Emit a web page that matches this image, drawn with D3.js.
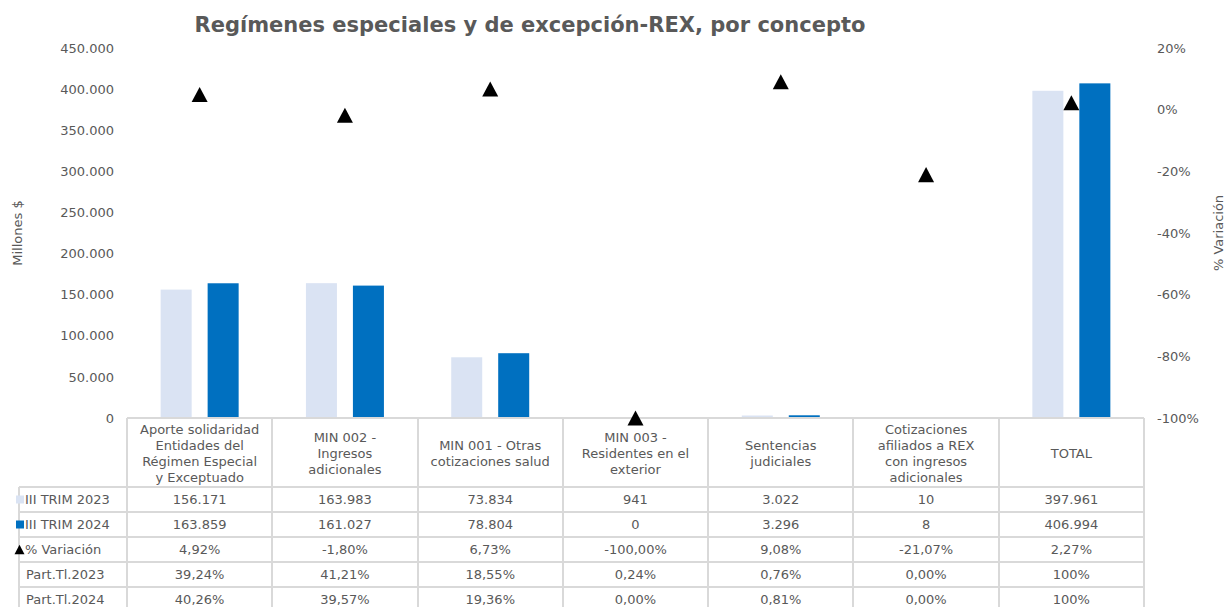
<!DOCTYPE html>
<html>
<head>
<meta charset="utf-8">
<script src="https://cdn.jsdelivr.net/npm/d3@7"></script>
<style>
  html, body { margin: 0; padding: 0; background: #fff; }
  svg { display: block; font-family: "DejaVu Sans", Verdana, sans-serif; }
</style>
</head>
<body>
<svg id="chart" width="1225" height="607"></svg>
<script>
// Concepts (column order) and their header lines in the data table
const categories = [
  "Aporte solidaridad Entidades del Régimen Especial y Exceptuado",
  "MIN 002 - Ingresos adicionales",
  "MIN 001 - Otras cotizaciones salud",
  "MIN 003 - Residentes en el exterior",
  "Sentencias judiciales",
  "Cotizaciones afiliados a REX con ingresos adicionales",
  "TOTAL"
];
const headerLines = [
  ["Aporte solidaridad", "Entidades del", "Régimen Especial", "y Exceptuado"],
  ["MIN 002 -", "Ingresos", "adicionales"],
  ["MIN 001 - Otras", "cotizaciones salud"],
  ["MIN 003 -", "Residentes en el", "exterior"],
  ["Sentencias", "judiciales"],
  ["Cotizaciones", "afiliados a REX", "con ingresos", "adicionales"],
  ["TOTAL"]
];

// Millones $
const trim2023 = [156171, 163983, 73834, 941, 3022, 10, 397961];
const trim2024 = [163859, 161027, 78804, 0, 3296, 8, 406994];
// % variación
const variacion = [4.92, -1.80, 6.73, -100.00, 9.08, -21.07, 2.27];
// Participación en el total (%)
const partTl2023 = [39.24, 41.21, 18.55, 0.24, 0.76, 0.00, 100];
const partTl2024 = [40.26, 39.57, 19.36, 0.00, 0.81, 0.00, 100];

const leftTicks = [0, 50000, 100000, 150000, 200000, 250000, 300000, 350000, 400000, 450000];
const rightTicks = [-100, -80, -60, -40, -20, 0, 20];

const seriesNames = ["III TRIM 2023", "III TRIM 2024"];
const colors = { "III TRIM 2023": "#dae3f3", "III TRIM 2024": "#0070c0" };
const textColor = "#595959";
const gridColor = "#d9d9d9";

const locale = d3.formatLocale({ decimal: ",", thousands: ".", grouping: [3], currency: ["$", ""], minus: "-" });
const fmtInt = locale.format(",.0f");
const fmtPct2 = v => locale.format(",.2f")(v) + "%";
const fmtPart = v => (v === 100 ? "100%" : fmtPct2(v));

// Triangle centred on its bounding box; size = width of the base
const bboxTriangle = {
  draw(ctx, size) {
    const w = size / 2, h = size * 0.47;
    ctx.moveTo(0, -h);
    ctx.lineTo(w, h);
    ctx.lineTo(-w, h);
    ctx.closePath();
  }
};

const svg = d3.select("#chart");

// Plot geometry
const plotLeft = 127, plotRight = 1144, plotTop = 48, plotBottom = 418;

const x = d3.scaleBand().domain(categories).range([plotLeft, plotRight]).paddingInner(0).paddingOuter(0);
const xs = d3.scaleBand().domain(seriesNames).range([0, x.bandwidth()]).paddingInner(0.34).paddingOuter(0.716);
const y = d3.scaleLinear().domain([0, 450000]).range([plotBottom, plotTop]);
const y2 = d3.scaleLinear().domain([-100, 20]).range([plotBottom, plotTop]);

// Title
svg.append("text")
  .attr("x", 530).attr("y", 32)
  .attr("text-anchor", "middle")
  .attr("font-size", 21).attr("font-weight", "bold")
  .attr("fill", textColor)
  .text("Regímenes especiales y de excepción-REX, por concepto");

// Left axis
const leftAxis = d3.axisLeft(y).tickValues(leftTicks).tickFormat(d => fmtInt(d)).tickSize(0).tickPadding(0);
const gL = svg.append("g").attr("transform", `translate(114,0)`).call(leftAxis);
gL.select(".domain").remove();
gL.selectAll("text").attr("font-size", 13).attr("fill", textColor).attr("font-family", "DejaVu Sans, sans-serif");

// Right axis
const rightAxis = d3.axisRight(y2).tickValues(rightTicks).tickFormat(d => locale.format("d")(d) + "%").tickSize(0).tickPadding(0);
const gR = svg.append("g").attr("transform", `translate(1157,0)`).call(rightAxis);
gR.select(".domain").remove();
gR.selectAll("text").attr("font-size", 13).attr("fill", textColor).attr("font-family", "DejaVu Sans, sans-serif");

// Axis titles
svg.append("text")
  .attr("transform", `translate(22,${(plotTop + plotBottom) / 2}) rotate(-90)`)
  .attr("text-anchor", "middle")
  .attr("font-size", 13).attr("fill", textColor)
  .text("Millones $");
svg.append("text")
  .attr("transform", `translate(1223,${(plotTop + plotBottom) / 2}) rotate(-90)`)
  .attr("text-anchor", "middle")
  .attr("font-size", 13).attr("fill", textColor)
  .text("% Variación");

// Bars
const barData = categories.flatMap((c, i) => [
  { cat: c, key: seriesNames[0], value: trim2023[i] },
  { cat: c, key: seriesNames[1], value: trim2024[i] }
]);
svg.append("g").selectAll("rect")
  .data(barData)
  .join("rect")
  .attr("x", d => x(d.cat) + xs(d.key))
  .attr("width", xs.bandwidth())
  .attr("y", d => y(d.value))
  .attr("height", d => y(0) - y(d.value))
  .attr("fill", d => colors[d.key]);

// Data table
const table = svg.append("g");
const headerTop = plotBottom, headerBottom = 487, rowH = 25, legendLeft = 19;
const rows = [
  { label: seriesNames[0], marker: "lightSquare", vals: trim2023.map(fmtInt) },
  { label: seriesNames[1], marker: "darkSquare", vals: trim2024.map(fmtInt) },
  { label: "% Variación", marker: "triangle", vals: variacion.map(fmtPct2) },
  { label: "Part.Tl.2023", marker: null, vals: partTl2023.map(fmtPart) },
  { label: "Part.Tl.2024", marker: null, vals: partTl2024.map(fmtPart) }
];

const lineAttrs = sel => sel.attr("stroke", gridColor).attr("stroke-width", 2).attr("shape-rendering", "crispEdges");

// Horizontal lines
table.append("line").attr("x1", plotLeft).attr("x2", plotRight).attr("y1", headerTop).attr("y2", headerTop).call(lineAttrs);
rows.forEach((r, i) => {
  const yy = headerBottom + i * rowH;
  table.append("line").attr("x1", legendLeft).attr("x2", plotRight).attr("y1", yy).attr("y2", yy).call(lineAttrs);
});
table.append("line").attr("x1", legendLeft).attr("x2", plotRight)
  .attr("y1", headerBottom + rows.length * rowH).attr("y2", headerBottom + rows.length * rowH).call(lineAttrs);

// Vertical lines
const colEdges = categories.map(c => x(c)).concat([plotRight]);
colEdges.forEach(cx => {
  table.append("line").attr("x1", cx).attr("x2", cx).attr("y1", headerTop).attr("y2", 607).call(lineAttrs);
});
table.append("line").attr("x1", legendLeft).attr("x2", legendLeft).attr("y1", headerBottom).attr("y2", 607).call(lineAttrs);

// Header text
categories.forEach((c, i) => {
  const lines = headerLines[i];
  const cx = x(c) + x.bandwidth() / 2;
  const midY = (headerTop + headerBottom) / 2 + 1;
  const t = table.append("text").attr("text-anchor", "middle").attr("font-size", 13).attr("fill", textColor);
  lines.forEach((ln, k) => {
    t.append("tspan").attr("x", cx)
      .attr("y", midY + (k - (lines.length - 1) / 2) * 16 + 4.5)
      .text(ln);
  });
});

// Row labels with legend keys, and cell values
rows.forEach((r, i) => {
  const cy = headerBottom + i * rowH + rowH / 2;
  if (r.marker === "lightSquare" || r.marker === "darkSquare") {
    table.append("rect").attr("x", 16).attr("y", cy - 4).attr("width", 8).attr("height", 8)
      .attr("fill", r.marker === "lightSquare" ? colors[seriesNames[0]] : colors[seriesNames[1]]);
  } else if (r.marker === "triangle") {
    table.append("path").attr("d", d3.symbol().type(bboxTriangle).size(10))
      .attr("transform", `translate(19.5,${cy})`).attr("fill", "#000");
  }
  table.append("text")
    .attr("x", r.marker ? 25 : 26).attr("y", cy + 4.5)
    .attr("font-size", 13).attr("fill", textColor)
    .text(r.label);
  categories.forEach((c, j) => {
    table.append("text")
      .attr("x", x(c) + x.bandwidth() / 2).attr("y", cy + 4.5)
      .attr("text-anchor", "middle")
      .attr("font-size", 13).attr("fill", textColor)
      .text(r.vals[j]);
  });
});

// Variation markers (secondary axis), drawn on top of the table border
svg.append("g").selectAll("path")
  .data(categories.map((c, i) => ({ cat: c, v: variacion[i] })))
  .join("path")
  .attr("d", d3.symbol().type(bboxTriangle).size(16))
  .attr("transform", d => `translate(${x(d.cat) + x.bandwidth() / 2},${y2(d.v)})`)
  .attr("fill", "#000");
</script>
</body>
</html>
